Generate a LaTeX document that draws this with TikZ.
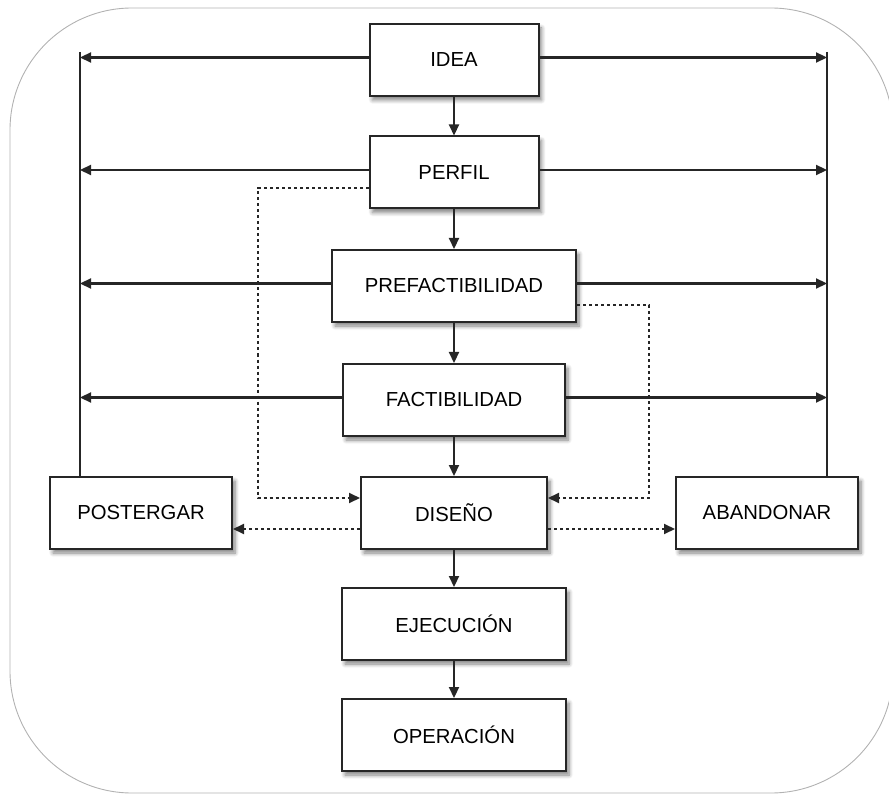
\documentclass[tikz,border=0pt]{standalone}
\usepackage{fontspec}
\setmainfont{Liberation Sans}
\usetikzlibrary{arrows.meta,shadows.blur}
\begin{document}
\begin{tikzpicture}[x=1pt,y=-1pt,
  box/.style={draw=black!85, line width=2pt, fill=white,
    font=\fontsize{20.3}{24}\selectfont, text=black, inner sep=0pt,
    minimum height=72pt,
    blur shadow={shadow xshift=3pt, shadow yshift=-4pt, shadow blur radius=4pt, shadow blur steps=6, shadow opacity=50}},
  conn/.style={draw=black!85, line width=2.2pt},
  arr/.style={conn, -{Triangle[length=11pt,width=10pt]}},
  dotarr/.style={draw=black!85, line width=2pt, dash pattern=on 3pt off 3pt, -{Triangle[length=11pt,width=10pt]}}]

\useasboundingbox (0,0) rectangle (889,794);
\begin{scope}
  \clip (0,0) rectangle (889,794);
  \draw[black!30, line width=0.9pt, rounded corners=122pt] (10,8) rectangle (893,793);
\end{scope}

% nodes
\node[box, minimum width=169pt] (idea)      at (454,60)    {IDEA};
\node[box, minimum width=169pt] (perfil)    at (454,172.5) {PERFIL};
\node[box, minimum width=244pt] (prefact)   at (454,286)   {PREFACTIBILIDAD};
\node[box, minimum width=222pt] (fact)      at (454,400)   {FACTIBILIDAD};
\node[box, minimum width=186pt] (diseno)    at (454,513)   {DISEÑO};
\node[box, minimum width=182pt] (postergar) at (141,513)   {POSTERGAR};
\node[box, minimum width=182pt] (abandonar) at (767,513)   {ABANDONAR};
\node[box, minimum width=224pt] (ejec)      at (454,624)   {EJECUCIÓN};
\node[box, minimum width=224pt] (oper)      at (454,735)   {OPERACIÓN};

% side rails
\coordinate (ltop) at (80,52);
\coordinate (rtop) at (827,52);
\draw[conn] (ltop) -- (ltop |- postergar.north);
\draw[conn] (rtop) -- (rtop |- abandonar.north);

% horizontal arrows to rails
\foreach \n in {idea,perfil,prefact,fact}{
  \draw[arr] ([yshift=2.5pt]\n.west) -- ([yshift=2.5pt]\n.west -| ltop);
  \draw[arr] ([yshift=2.5pt]\n.east) -- ([yshift=2.5pt]\n.east -| rtop);
}

% main column
\draw[arr] (idea.south) -- (perfil.north);
\draw[arr] (perfil.south) -- (prefact.north);
\draw[arr] (prefact.south) -- (fact.north);
\draw[arr] (fact.south) -- (diseno.north);
\draw[arr] (diseno.south) -- (ejec.north);
\draw[arr] (ejec.south) -- (oper.north);

% dotted connectors
\coordinate (dl) at (258,0);
\coordinate (dr) at (649,0);
\draw[dotarr] ([yshift=-15.5pt]perfil.west) -| ([yshift=15pt]diseno.west -| dl) -- ([yshift=15pt]diseno.west);
\draw[dotarr] ([yshift=-19pt]prefact.east) -| ([yshift=15pt]diseno.east -| dr) -- ([yshift=15pt]diseno.east);
\draw[dotarr] ([yshift=-16pt]diseno.west) -- ([yshift=-16pt]diseno.west -| postergar.east);
\draw[dotarr] ([yshift=-16pt]diseno.east) -- ([yshift=-16pt]diseno.east -| abandonar.west);
\end{tikzpicture}
\end{document}
